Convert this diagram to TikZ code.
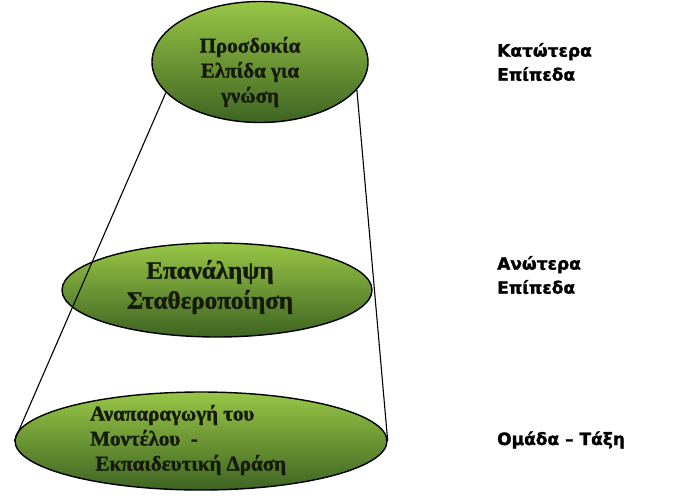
\documentclass[tikz,border=0pt]{standalone}
\usepackage{fontspec}
\setmainfont{Liberation Serif}[BoldFont={Liberation Serif Bold},BoldFeatures={FakeBold=1.5}]
\newfontfamily\labelfont{DejaVu Sans}[BoldFont={DejaVu Sans Bold},BoldFeatures={FakeBold=1.5}]
\usetikzlibrary{shapes.geometric}
\definecolor{leafhi}{RGB}{152,198,70}
\definecolor{leaflo}{RGB}{62,100,34}
\definecolor{inkdark}{RGB}{22,26,12}
\tikzset{
  disc/.style={ellipse, draw=black, line width=1.4pt, inner sep=0pt,
    top color=leafhi, bottom color=leaflo},
  disctext/.style={text=inkdark, inner sep=0pt},
  side/.style={font=\labelfont\bfseries\fontsize{17}{24}\selectfont,
    align=left, anchor=west, inner sep=0pt, text=black},
  rim/.style={draw=black, line width=1.1pt}
}
\begin{document}
\begin{tikzpicture}[x=1pt,y=-1pt]
  \useasboundingbox[fill=white] (0,0) rectangle (676,498);

  % the three levels of the cone
  \node[disc, minimum width=216pt, minimum height=121pt] (top) at (260,62) {};
  \node[disc, minimum width=310pt, minimum height=94pt] (mid) at (217,290) {};
  \node[disc, minimum width=372pt, minimum height=98pt] (bot) at (201,441) {};

  % sides of the cone
  \draw[rim] (top.198) -- (bot.west);
  \draw[rim] (top.-16) -- (bot.east);

  % texts inside the levels
  \node[disctext, align=center, font=\bfseries\fontsize{21}{25}\selectfont]
    (toptxt) at (250,72) {Προσδοκία\\Ελπίδα για\\γνώση};
  \node[disctext, align=center, font=\bfseries\fontsize{25}{30}\selectfont]
    (midtxt) at (210,287) {Επανάληψη\\Σταθεροποίηση};
  \node[disctext, align=left, anchor=west, font=\bfseries\fontsize{21}{25}\selectfont]
    (bottxt) at (90,440) {Αναπαραγωγή του\\Μοντέλου\ \ -\\\ Εκπαιδευτική Δράση};

  % labels on the right
  \node[side] (lbl1) at (497,62) {Κατώτερα\\Επίπεδα};
  \node[side] (lbl2) at (497,275) {Ανώτερα\\Επίπεδα};
  \node[side] (lbl3) at (497,440) {Ομάδα – Τάξη};
\end{tikzpicture}
\end{document}
